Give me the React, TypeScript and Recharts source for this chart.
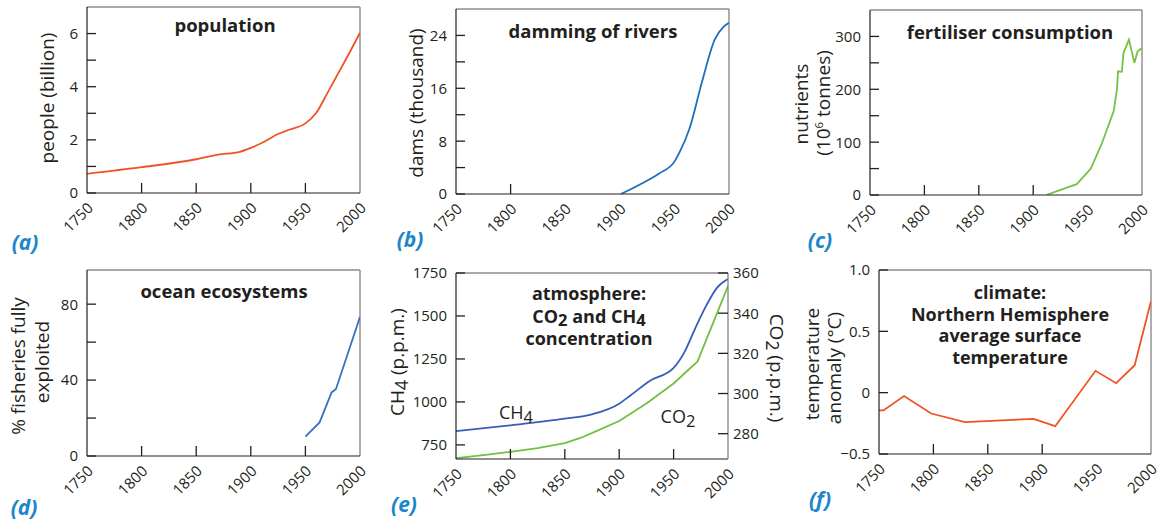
import React from "react";
import { LineChart, Line, XAxis, YAxis, ReferenceLine } from "recharts";

const FONT = "'Open Sans', 'Noto Sans', sans-serif";
const INK = "#231f20";
const TAG = "#1b86c9";
const RED = "#f05323";

const yearTicks = [1750, 1800, 1850, 1900, 1950, 2000];

// (a) population, billion
const popYears = [1750, 1800, 1850, 1870, 1890, 1900, 1910, 1925, 1935, 1950, 1960, 1970, 1980, 1990, 2000];
const popBillion = [0.72, 0.97, 1.27, 1.44, 1.55, 1.7, 1.88, 2.22, 2.38, 2.62, 3.02, 3.75, 4.5, 5.25, 6.03];

// (b) dams, thousand
const damYears = [1901, 1918, 1936, 1950, 1955, 1964, 1975, 1987, 1995, 2000];
const damThousand = [0, 1.4, 3.1, 4.9, 6.4, 10, 16.8, 23.4, 25.3, 25.9];

// (c) fertiliser, 10^6 tonnes
const fertYears = [1912, 1929, 1940, 1953, 1963, 1974, 1977, 1978, 1981.5, 1983, 1988, 1993, 1996, 2000];
const fertTonnes = [0, 12.5, 20.5, 50, 97, 159, 200, 234, 233, 269, 294, 250, 272, 278];

// (d) fisheries fully exploited, %
const fishYears = [1950, 1963, 1974, 1978, 1990, 2000];
const fishPct = [10.2, 17.7, 33.5, 35.3, 56, 73.3];

// (e) CH4 (left axis) and CO2 (right axis)
const ch4Years = [1750, 1800, 1850, 1875, 1900, 1910, 1928, 1950, 1960, 1970, 1980, 1990, 2000];
const ch4Ppb = [830, 864, 903, 928, 990, 1036, 1122, 1198, 1290, 1430, 1560, 1665, 1715];
const co2Years = [1750, 1775, 1800, 1825, 1850, 1865, 1880, 1900, 1925, 1950, 1972, 2000];
const co2Ppm = [267.8, 269.3, 271, 272.8, 275.3, 278, 281.5, 286.3, 295, 305, 316, 353.5];

// (f) temperature anomaly, °C
const tempYears = [1750, 1754, 1773, 1798, 1829, 1892, 1912, 1949, 1968, 1985, 2000];
const tempAnomaly = [-0.145, -0.145, -0.027, -0.17, -0.24, -0.213, -0.273, 0.178, 0.077, 0.224, 0.746];

const zip = (years: number[], vals: number[]) => years.map((year, i) => ({ year, v: vals[i] }));

type Box = { left: number; top: number; width: number; height: number };
type Series = { data: { year: number; v: number }[]; color: string; type: "monotone" | "linear"; axis?: string };
type RightAxis = { domain: [number, number]; ticks: number[] };

const PAD_L = 70;
const PAD_T = 14;
const PAD_B = 48;

function XTick(props: any) {
  const { x, y, payload, inner } = props;
  const v = payload.value;
  const tx = x + 7;
  const ty = y + 16;
  return (
    <g>
      {inner.includes(v) && <line x1={x} x2={x} y1={y} y2={y - 10} stroke={INK} strokeWidth={1.3} />}
      <text
        x={tx}
        y={ty}
        textAnchor="end"
        transform={`rotate(-45 ${tx} ${ty})`}
        fill={INK}
        fontSize={15}
        fontFamily={FONT}
      >
        {v}
      </text>
    </g>
  );
}

// inward tick mark + label beside the axis
function YTick(props: any) {
  const { x, y, payload, fmt, side } = props;
  const label = fmt(payload.value);
  const left = side === "left";
  return (
    <g>
      <line x1={x} x2={left ? x + 9 : x - 10} y1={y} y2={y} stroke={INK} strokeWidth={1.3} />
      {label !== "" && (
        <text
          x={left ? x - 9 : x + 5}
          y={y}
          dy="0.36em"
          textAnchor={left ? "end" : "start"}
          fill={INK}
          fontSize={15}
          fontFamily={FONT}
        >
          {label}
        </text>
      )}
    </g>
  );
}

function Panel({
  box,
  yDomain,
  yTicks,
  fmt,
  innerX,
  series,
  right,
}: {
  box: Box;
  yDomain: [number, number];
  yTicks: number[];
  fmt: (v: number) => string;
  innerX: number[];
  series: Series[];
  right?: RightAxis;
}) {
  const padR = right ? 50 : 14;
  const w = box.width + PAD_L + padR;
  const h = box.height + PAD_T + PAD_B;
  return (
    <div style={{ position: "absolute", left: box.left - PAD_L, top: box.top - PAD_T }}>
      <LineChart width={w} height={h} margin={{ top: PAD_T, right: right ? 0 : padR, bottom: 0, left: 0 }}>
        <XAxis
          dataKey="year"
          type="number"
          domain={[1750, 2000]}
          ticks={yearTicks}
          interval={0}
          height={PAD_B}
          tickSize={0}
          tickMargin={0}
          tickLine={false}
          axisLine={{ stroke: INK, strokeWidth: 1.2 }}
          tick={(p: any) => <XTick {...p} inner={innerX} />}
          allowDataOverflow
        />
        <YAxis
          width={PAD_L}
          type="number"
          domain={yDomain}
          ticks={yTicks}
          interval={0}
          tickSize={0}
          tickMargin={0}
          tickLine={false}
          axisLine={{ stroke: INK, strokeWidth: 1.2 }}
          tick={(p: any) => <YTick {...p} fmt={fmt} side="left" />}
          allowDataOverflow
        />
        {right && (
          <YAxis
            yAxisId="r"
            orientation="right"
            width={padR}
            type="number"
            domain={right.domain}
            ticks={right.ticks}
            interval={0}
            tickSize={0}
            tickMargin={0}
            tickLine={false}
            axisLine={{ stroke: "#7a7a7a", strokeWidth: 1.2 }}
            tick={(p: any) => <YTick {...p} fmt={(v: number) => String(v)} side="right" />}
            allowDataOverflow
          />
        )}
        <ReferenceLine y={yDomain[1]} stroke="#555" strokeWidth={1.2} />
        {!right && <ReferenceLine x={2000} stroke="#8a8a8a" strokeWidth={1.4} />}
        {series.map((s, i) => (
          <Line
            key={i}
            yAxisId={s.axis ?? 0}
            data={s.data}
            dataKey="v"
            type={s.type}
            stroke={s.color}
            strokeWidth={1.8}
            dot={false}
            activeDot={false}
            isAnimationActive={false}
          />
        ))}
      </LineChart>
    </div>
  );
}

function Txt({
  x,
  y,
  rot = 0,
  size = 19,
  weight = 400,
  italic = false,
  color = INK,
  lh = 1.2,
  children,
}: {
  x: number;
  y: number;
  rot?: number;
  size?: number;
  weight?: number;
  italic?: boolean;
  color?: string;
  lh?: number | string;
  children: React.ReactNode;
}) {
  return (
    <div
      style={{
        position: "absolute",
        left: x,
        top: y,
        transform: `translate(-50%, -50%) rotate(${rot}deg)`,
        fontSize: size,
        fontWeight: weight,
        fontStyle: italic ? "italic" : "normal",
        color,
        whiteSpace: "nowrap",
        lineHeight: lh,
        textAlign: "center",
        fontFamily: FONT,
      }}
    >
      {children}
    </div>
  );
}

const Sub = ({ children }: { children: React.ReactNode }) => (
  <span style={{ position: "relative", top: "0.22em", fontSize: "0.92em", lineHeight: 0 }}>{children}</span>
);

const only = (list: number[], f: (v: number) => string = (v) => String(v)) => (v: number) =>
  list.includes(v) ? f(v) : "";

export default function App() {
  return (
    <div style={{ position: "absolute", left: 0, top: 0, width: 1171, height: 519, background: "#fff", fontFamily: FONT, overflow: "hidden" }}>
      <Panel
        box={{ left: 87, top: 7, width: 273, height: 186 }}
        yDomain={[0, 7]}
        yTicks={[0, 1, 2, 3, 4, 5, 6]}
        fmt={only([0, 2, 4, 6])}
        innerX={[1800, 1850, 1900, 1950]}
        series={[{ data: zip(popYears, popBillion), color: RED, type: "monotone" }]}
      />
      <Panel
        box={{ left: 456, top: 9, width: 273, height: 185 }}
        yDomain={[0, 28]}
        yTicks={[0, 4, 8, 12, 16, 20, 24]}
        fmt={only([0, 8, 16, 24])}
        innerX={[1800]}
        series={[{ data: zip(damYears, damThousand), color: "#1f6fc0", type: "monotone" }]}
      />
      <Panel
        box={{ left: 870, top: 10, width: 272, height: 185 }}
        yDomain={[0, 350]}
        yTicks={[0, 50, 100, 150, 200, 250, 300]}
        fmt={only([0, 100, 200, 300])}
        innerX={[1800, 1850, 1900]}
        series={[{ data: zip(fertYears, fertTonnes), color: "#78c043", type: "linear" }]}
      />
      <Panel
        box={{ left: 87, top: 270, width: 273, height: 186 }}
        yDomain={[0, 98]}
        yTicks={[0, 20, 40, 60, 80]}
        fmt={only([0, 40, 80])}
        innerX={[1800, 1850, 1900, 1950]}
        series={[{ data: zip(fishYears, fishPct), color: "#3b6fc4", type: "linear" }]}
      />
      <Panel
        box={{ left: 456, top: 273, width: 272, height: 186 }}
        yDomain={[668, 1750]}
        yTicks={[750, 1000, 1250, 1500, 1750]}
        fmt={(v) => String(v)}
        innerX={[1800, 1850, 1900, 1950]}
        right={{ domain: [267.4, 360], ticks: [280, 300, 320, 340, 360] }}
        series={[
          { data: zip(ch4Years, ch4Ppb), color: "#3a5cb8", type: "monotone" },
          { data: zip(co2Years, co2Ppm), color: "#72bf44", type: "linear", axis: "r" },
        ]}
      />
      <Panel
        box={{ left: 879, top: 270, width: 272, height: 184 }}
        yDomain={[-0.5, 1]}
        yTicks={[-0.5, 0, 0.5, 1]}
        fmt={(v) => (v === -0.5 ? "\u22120.5" : v === 1 ? "1.0" : String(v))}
        innerX={[1800, 1850, 1900]}
        series={[{ data: zip(tempYears, tempAnomaly), color: RED, type: "linear" }]}
      />

      {/* titles */}
      <Txt x={225} y={25} size={18.5} weight={700}>population</Txt>
      <Txt x={593} y={31} size={18.5} weight={700}>damming of rivers</Txt>
      <Txt x={1010} y={32} size={18.5} weight={700}>fertiliser consumption</Txt>
      <Txt x={224} y={291} size={18.5} weight={700}>ocean ecosystems</Txt>
      <Txt x={589} y={316} size={18} weight={700} lh="22.5px">
        atmosphere:
        <br />
        CO<Sub>2</Sub> and CH<Sub>4</Sub>
        <br />
        concentration
      </Txt>
      <Txt x={1010} y={325} size={18} weight={700} lh="21.7px">
        climate:
        <br />
        Northern Hemisphere
        <br />
        average surface
        <br />
        temperature
      </Txt>

      {/* axis titles */}
      <Txt x={47} y={98} rot={-90}>people (billion)</Txt>
      <Txt x={416} y={103} rot={-90}>dams (thousand)</Txt>
      <Txt x={801} y={104} rot={-90}>nutrients</Txt>
      <Txt x={823} y={103} rot={-90}>
        (10<span style={{ fontSize: "0.6em", position: "relative", top: "-0.6em", lineHeight: 0 }}>6</span> tonnes)
      </Txt>
      <Txt x={18} y={366} rot={-90}>% fisheries fully</Txt>
      <Txt x={42} y={362} rot={-90}>exploited</Txt>
      <Txt x={397} y={362} rot={-90}>
        CH<Sub>4</Sub> (p.p.m.)
      </Txt>
      <Txt x={777} y={368} rot={90}>
        CO<Sub>2</Sub> (p.p.m.)
      </Txt>
      <Txt x={812} y={364} rot={-90}>temperature</Txt>
      <Txt x={834} y={368} rot={-90}>anomaly (°C)</Txt>

      {/* series labels in (e) */}
      <Txt x={516} y={413} size={18}>
        CH<Sub>4</Sub>
      </Txt>
      <Txt x={678} y={417} size={18}>
        CO<Sub>2</Sub>
      </Txt>

      {/* panel tags */}
      <Txt x={25} y={242} size={21} weight={700} italic color={TAG} lh={1}>(a)</Txt>
      <Txt x={410} y={239} size={21} weight={700} italic color={TAG} lh={1}>(b)</Txt>
      <Txt x={820} y={240} size={21} weight={700} italic color={TAG} lh={1}>(c)</Txt>
      <Txt x={24} y={507} size={21} weight={700} italic color={TAG} lh={1}>(d)</Txt>
      <Txt x={404} y={504} size={21} weight={700} italic color={TAG} lh={1}>(e)</Txt>
      <Txt x={820} y={499} size={21} weight={700} italic color={TAG} lh={1}>(f)</Txt>
    </div>
  );
}
